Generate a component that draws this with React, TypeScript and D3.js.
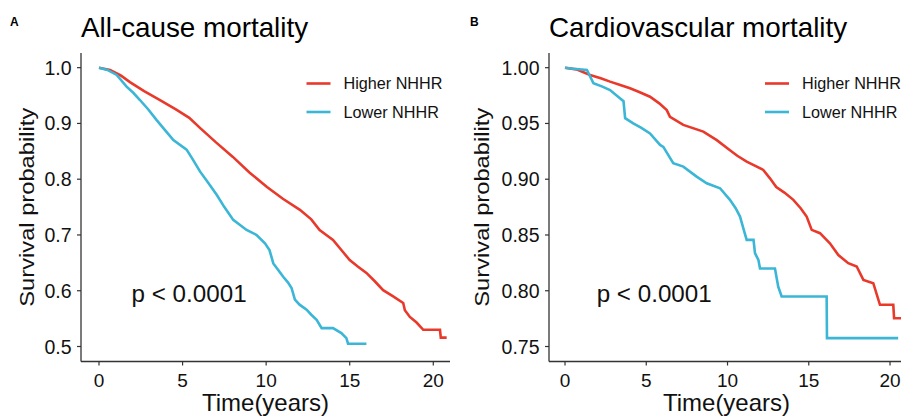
import React from "react";
import * as d3 from "d3";

// ---- Data ----
const groups = ["Higher NHHR", "Lower NHHR"];
const colors = ["#E8392B", "#3BB6D6"];

// Panel A: All-cause mortality  [time (years), survival]
const allHigherT = [0, 0.66, 1.3, 1.85, 2.7, 3.65, 4.6, 5.4, 6.04, 7.0, 8.01, 9.0, 10.05, 11.0, 12.02, 12.7, 13.2, 13.6, 14.0, 14.5, 15.0, 15.5, 16.0, 16.5, 17.0, 17.6, 18.2, 18.3, 18.6, 19.0, 19.4, 20.4, 20.45, 20.8];
const allHigherS = [1, 0.996, 0.986, 0.974, 0.958, 0.942, 0.925, 0.91, 0.892, 0.866, 0.84, 0.812, 0.786, 0.765, 0.745, 0.728, 0.709, 0.70, 0.691, 0.673, 0.655, 0.643, 0.632, 0.617, 0.601, 0.59, 0.578, 0.565, 0.553, 0.543, 0.53, 0.53, 0.516, 0.516];
const allLowerT = [0, 0.5, 1.06, 1.65, 2.05, 2.45, 2.95, 3.45, 3.95, 4.45, 5.24, 5.6, 6.04, 6.5, 7.04, 7.5, 8.03, 8.83, 9.43, 9.93, 10.2, 10.43, 10.7, 11.02, 11.3, 11.52, 11.72, 12.0, 12.42, 12.7, 13.02, 13.32, 14.0, 14.5, 14.8, 14.9, 16.0];
const allLowerS = [1, 0.996, 0.987, 0.966, 0.955, 0.942, 0.925, 0.906, 0.888, 0.87, 0.853, 0.836, 0.814, 0.795, 0.772, 0.75, 0.727, 0.709, 0.70, 0.685, 0.673, 0.649, 0.638, 0.625, 0.615, 0.605, 0.584, 0.575, 0.566, 0.557, 0.548, 0.533, 0.533, 0.524, 0.515, 0.505, 0.505];

// Panel B: Cardiovascular mortality
const cvHigherT = [0, 0.7, 1.54, 2.2, 2.77, 3.4, 4.0, 4.6, 5.23, 5.8, 6.26, 6.46, 7.28, 8.51, 9.34, 10.15, 10.6, 11.18, 12.2, 12.6, 13.0, 13.5, 14.05, 14.5, 14.87, 15.18, 15.69, 16.3, 16.82, 17.43, 17.95, 18.36, 18.97, 19.38, 20.2, 20.25, 20.9];
const cvHigherS = [1, 0.9985, 0.9934, 0.9905, 0.9875, 0.9845, 0.9815, 0.978, 0.974, 0.968, 0.962, 0.956, 0.9487, 0.9427, 0.935, 0.926, 0.921, 0.9158, 0.9083, 0.901, 0.893, 0.888, 0.8815, 0.874, 0.8665, 0.8546, 0.8516, 0.8426, 0.832, 0.8247, 0.8217, 0.8097, 0.8068, 0.7874, 0.7874, 0.7754, 0.7754];
const cvLowerT = [0, 0.5, 1.35, 1.75, 2.3, 2.77, 3.38, 3.6, 3.7, 4.2, 4.7, 5.23, 5.85, 6.05, 6.66, 7.28, 8.1, 8.72, 9.54, 10.15, 10.5, 10.77, 11.0, 11.18, 11.6, 11.69, 11.9, 12.0, 12.92, 13.12, 13.33, 16.1, 16.12, 20.5];
const cvLowerS = [1, 0.999, 0.998, 0.986, 0.983, 0.98, 0.9726, 0.97, 0.9547, 0.95, 0.946, 0.941, 0.9307, 0.929, 0.9143, 0.9113, 0.9023, 0.8964, 0.8919, 0.8815, 0.874, 0.8665, 0.8546, 0.8456, 0.8456, 0.8337, 0.8277, 0.82, 0.82, 0.8037, 0.7948, 0.7948, 0.7575, 0.7575];

const xTicks = [0, 5, 10, 15, 20];
const yTicksA = [0.5, 0.6, 0.7, 0.8, 0.9, 1.0];
const yTicksB = [0.75, 0.8, 0.85, 0.9, 0.95, 1.0];

const FONT = "Arial, 'Liberation Sans', Helvetica, sans-serif";
const AXIS = "#333333";

type PanelProps = {
  letter: string;
  title: string;
  left: number;
  right: number;
  xDomain: [number, number];
  yDomain: [number, number];
  yTicks: number[];
  yFmt: (v: number) => string;
  series: { t: number[]; s: number[] }[];
  letterX: number;
  ylabX: number;
  legendX: number;
};

const TOP = 53;
const BOTTOM = 361.5;

function Panel(p: PanelProps) {
  const x = d3.scaleLinear().domain(p.xDomain).range([p.left, p.right]);
  const y = d3.scaleLinear().domain(p.yDomain).range([BOTTOM, TOP]);
  const line = d3
    .line<[number, number]>()
    .x((d) => x(d[0]))
    .y((d) => y(d[1]))
    .curve(d3.curveLinear);
  const cx = (p.left + p.right) / 2;
  return (
    <g fontFamily={FONT}>
      <text x={p.letterX} y={26} fontSize={12} fontWeight="bold" fill="#000">
        {p.letter}
      </text>
      <text x={p.left} y={37} fontSize={27.8} fill="#000">
        {p.title}
      </text>
      {p.series.map((sr, i) => (
        <path
          key={i}
          d={line(sr.t.map((t, k) => [t, sr.s[k]] as [number, number])) || ""}
          fill="none"
          stroke={colors[i]}
          strokeWidth={2.6}
          strokeLinejoin="miter"
        />
      ))}
      <line x1={p.left} x2={p.left} y1={TOP} y2={BOTTOM} stroke={AXIS} strokeWidth={1.3} />
      <line x1={p.left} x2={p.right} y1={BOTTOM} y2={BOTTOM} stroke={AXIS} strokeWidth={1.3} />
      {p.yTicks.map((v) => (
        <g key={"y" + v}>
          <line x1={p.left - 4} x2={p.left} y1={y(v)} y2={y(v)} stroke={AXIS} strokeWidth={1.2} />
          <text x={p.left - 9.5} y={y(v)} dy="0.36em" textAnchor="end" fontSize={19.5} fill="#111">
            {p.yFmt(v)}
          </text>
        </g>
      ))}
      {xTicks.map((v) => (
        <g key={"x" + v}>
          <line x1={x(v)} x2={x(v)} y1={BOTTOM} y2={BOTTOM + 4} stroke={AXIS} strokeWidth={1.2} />
          <text x={x(v)} y={386.5} textAnchor="middle" fontSize={19} fill="#111">
            {v}
          </text>
        </g>
      ))}
      <text x={cx} y={411} textAnchor="middle" fontSize={24} fill="#111">
        Time(years)
      </text>
      <text
        transform={`translate(${p.ylabX},${(TOP + BOTTOM) / 2}) rotate(-90)`}
        textAnchor="middle"
        fontSize={21}
        textLength={199}
        lengthAdjust="spacingAndGlyphs"
        fill="#111"
      >
        Survival probability
      </text>
      <text x={x(1.95)} y={301.5} fontSize={24.2} fill="#111">
        p &lt; 0.0001
      </text>
      {groups.map((g, i) => (
        <g key={g}>
          <line
            x1={p.legendX}
            x2={p.legendX + 24}
            y1={83.5 + i * 28.5}
            y2={83.5 + i * 28.5}
            stroke={colors[i]}
            strokeWidth={2.6}
          />
          <text x={p.legendX + 37} y={83.5 + i * 28.5} dy="0.36em" fontSize={16.2} fill="#111">
            {g}
          </text>
        </g>
      ))}
    </g>
  );
}

export default function App() {
  return (
    <svg width={901} height={419} style={{ position: "absolute", left: 0, top: 0, background: "#fff" }}>
      <rect width={901} height={419} fill="#fff" />
      <Panel
        letter="A"
        title="All-cause mortality"
        left={81}
        right={450}
        xDomain={[-1.077, 21.0]}
        yDomain={[0.4731, 1.0263]}
        yTicks={yTicksA}
        yFmt={(v) => v.toFixed(1)}
        series={[
          { t: allHigherT, s: allHigherS },
          { t: allLowerT, s: allLowerS },
        ]}
        letterX={10}
        ylabX={34}
        legendX={306.5}
      />
      <Panel
        letter="B"
        title="Cardiovascular mortality"
        left={549}
        right={904}
        xDomain={[-0.985, 20.86]}
        yDomain={[0.73656, 1.01317]}
        yTicks={yTicksB}
        yFmt={(v) => v.toFixed(2)}
        series={[
          { t: cvHigherT, s: cvHigherS },
          { t: cvLowerT, s: cvLowerS },
        ]}
        letterX={470}
        ylabX={489}
        legendX={765}
      />
    </svg>
  );
}
